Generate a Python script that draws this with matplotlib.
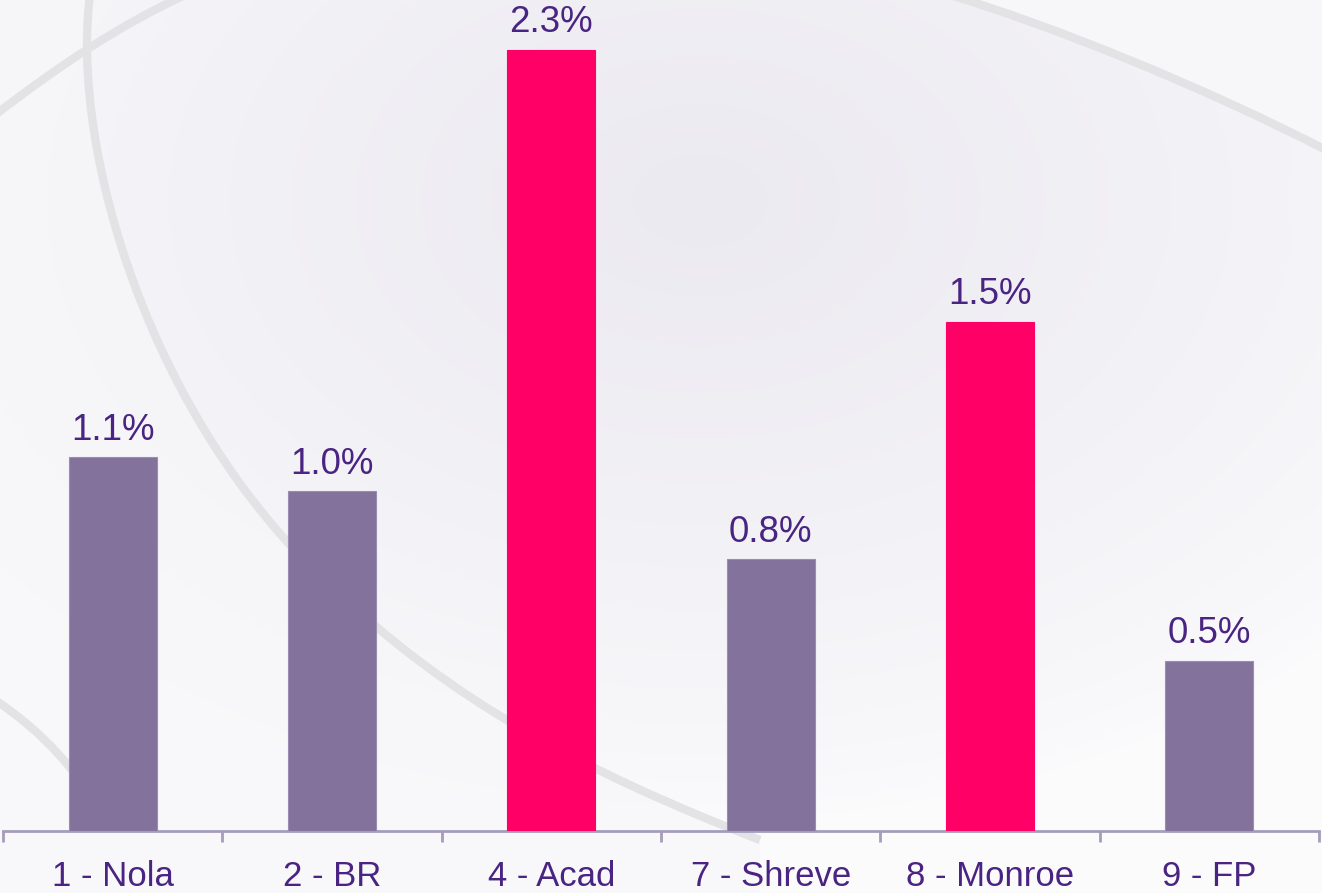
import numpy as np
import matplotlib.pyplot as plt
from matplotlib.path import Path
from matplotlib.patches import PathPatch

categories = ["1 - Nola", "2 - BR", "4 - Acad", "7 - Shreve", "8 - Monroe", "9 - FP"]
values = [1.1, 1.0, 2.3, 0.8, 1.5, 0.5]
highlight = [False, False, True, False, True, False]

PURPLE = "#82729C"
PINK = "#FF0066"
TEXT = "#4A2482"
AXIS = "#A59DBB"

plt.rcParams["font.family"] = ["Liberation Sans", "DejaVu Sans"]

W, H = 1322, 893
fig = plt.figure(figsize=(W / 100, H / 100), dpi=100)

# background: soft lavender wash with grey swooshes
bg = fig.add_axes([0, 0, 1, 1])
bg.set_xlim(0, W)
bg.set_ylim(H, 0)
bg.axis("off")

yy, xx = np.mgrid[0:H, 0:W]
d = np.sqrt(((xx - 700) / 900.0) ** 2 + ((yy - 200) / 620.0) ** 2)
t = np.clip(1 - d, 0, 1) ** 0.7
light = np.array([0.985, 0.985, 0.99])
lav = np.array([0.925, 0.918, 0.945])
img = light[None, None, :] * (1 - t[..., None]) + lav[None, None, :] * t[..., None]
bg.imshow(img, extent=(0, W, H, 0), aspect="auto", zorder=0)

# whiter corner above the top-right swoosh
corner = Path([(950, -5), (1050, 25), (1200, 85), (1330, 152), (1330, -5), (950, -5)],
              [Path.MOVETO, Path.CURVE4, Path.CURVE4, Path.CURVE4, Path.LINETO, Path.CLOSEPOLY])
bg.add_patch(PathPatch(corner, facecolor="#F8F8FA", edgecolor="none", alpha=0.9, zorder=1))

# whiter region left of the big swoosh
left = Path([(90, -5), (70, 150), (150, 420), (330, 585), (450, 700), (580, 770), (760, 840),
             (760, 900), (-5, 900), (-5, -5), (90, -5)],
            [Path.MOVETO, Path.CURVE4, Path.CURVE4, Path.CURVE4, Path.CURVE4, Path.CURVE4,
             Path.CURVE4, Path.LINETO, Path.LINETO, Path.LINETO, Path.CLOSEPOLY])
bg.add_patch(PathPatch(left, facecolor="#F7F7F9", edgecolor="none", alpha=0.6, zorder=1))

swooshes = [
    Path([(90, -5), (70, 150), (150, 420), (330, 585), (450, 700), (580, 770), (760, 840)],
         [Path.MOVETO, Path.CURVE4, Path.CURVE4, Path.CURVE4, Path.CURVE4, Path.CURVE4, Path.CURVE4]),
    Path([(-5, 115), (60, 65), (120, 25), (185, -5)],
         [Path.MOVETO, Path.CURVE4, Path.CURVE4, Path.CURVE4]),
    Path([(950, -5), (1050, 25), (1200, 85), (1330, 152)],
         [Path.MOVETO, Path.CURVE4, Path.CURVE4, Path.CURVE4]),
    Path([(-5, 700), (40, 730), (80, 770), (110, 830)],
         [Path.MOVETO, Path.CURVE4, Path.CURVE4, Path.CURVE4]),
]
for p in swooshes:
    bg.add_patch(PathPatch(p, facecolor="none", edgecolor="#E3E3E5", lw=6, zorder=2,
                           capstyle="butt"))

# chart
ax = fig.add_axes([3 / W, 62 / H, 1316 / W, 831 / H])
ax.patch.set_alpha(0)
x = np.arange(len(categories))
colors = [PINK if h else PURPLE for h in highlight]
ax.bar(x, values, width=0.4, color=colors, edgecolor=[PINK if h else "#9A8DB3" for h in highlight],
       linewidth=0.8, zorder=3)

for xi, v in zip(x, values):
    ax.annotate(f"{v:.1f}%", (xi, v), xytext=(0, 7), textcoords="offset points",
                ha="center", va="bottom", fontsize=26.5, color=TEXT)

ax.set_xlim(-0.5, len(categories) - 0.5)
ax.set_ylim(0, 831 / 339.6)
for s in ["top", "right", "left"]:
    ax.spines[s].set_visible(False)
ax.spines["bottom"].set_color(AXIS)
ax.spines["bottom"].set_linewidth(2)
ax.set_yticks([])
ax.set_xticks(x)
ax.set_xticklabels(categories, fontsize=25, color=TEXT)
ax.tick_params(axis="x", which="major", length=0, pad=21)
ax.set_xticks(np.arange(-0.5, len(categories)), minor=True)
ax.tick_params(axis="x", which="minor", length=8, width=2, color=AXIS, direction="out")

fig.savefig("out.png", dpi=100)
